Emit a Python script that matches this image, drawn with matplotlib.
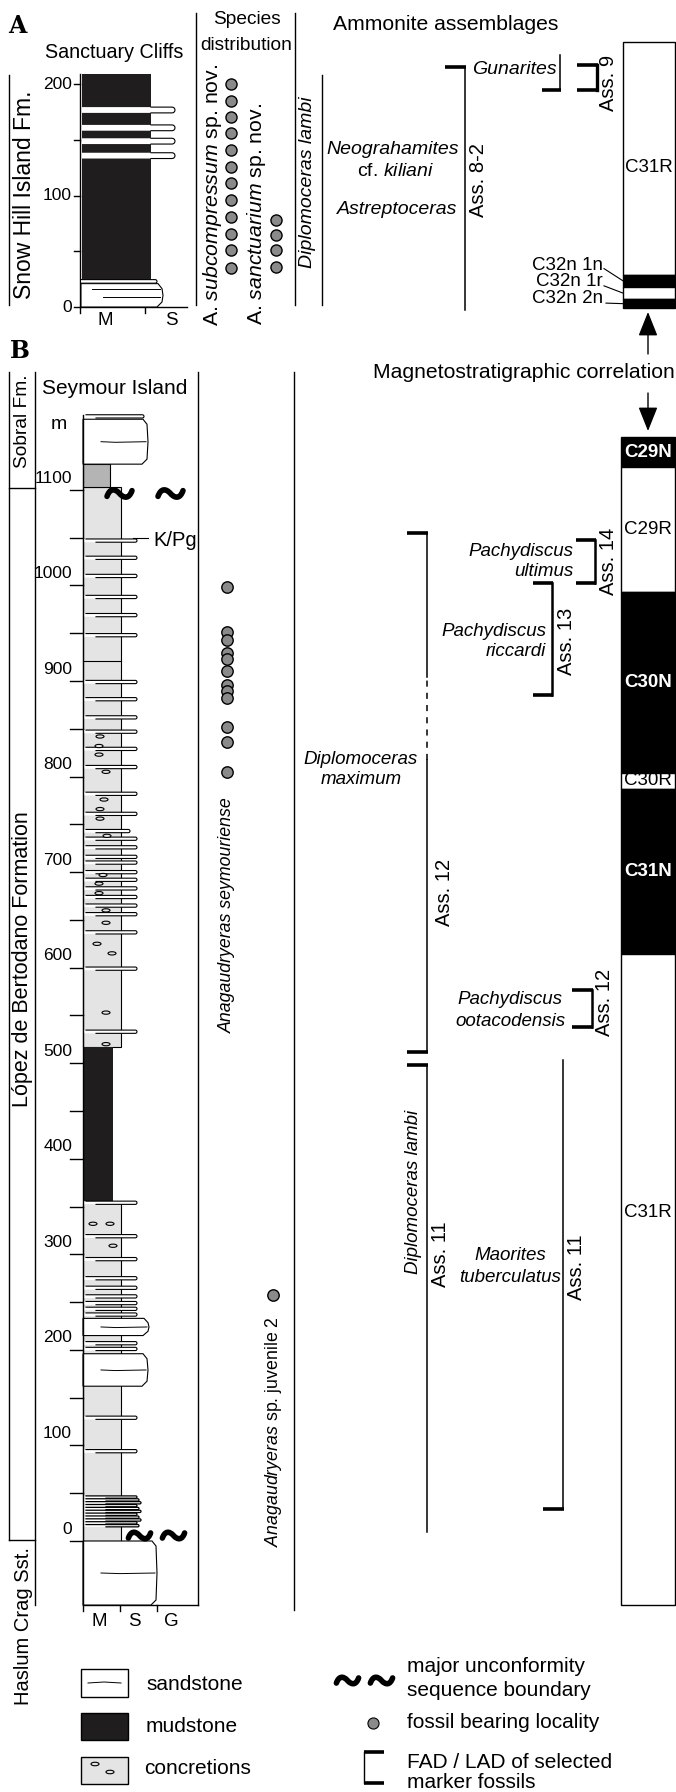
import numpy as np
import matplotlib.pyplot as plt
from matplotlib.patches import Rectangle, Ellipse, Polygon
from matplotlib.path import Path
from matplotlib.markers import MarkerStyle

plt.rcParams['font.family'] = ['Liberation Sans', 'DejaVu Sans']
plt.rcParams['mathtext.fontset'] = 'custom'
plt.rcParams['mathtext.rm'] = 'Liberation Sans'
plt.rcParams['mathtext.it'] = 'Liberation Sans:italic'
plt.rcParams['mathtext.bf'] = 'Liberation Sans:bold'

W, H = 676, 1792
MUD, SILT, GLAUC, DOT = '#1f1d1e', '#e4e4e4', '#b4b4b4', '#8a8a8a'

# ---- panel A : Sanctuary Cliffs, Snow Hill Island Fm. (metres) ----
a_major_ticks = [0, 100, 200]
a_minor_ticks = [50, 150]
a_mud = (24, 209)
a_sand_base = (0, 21)
a_top_lens = 23
a_sand_lenses = [177, 161, 149, 136]
subcompressum_m = [200, 185, 171, 156, 141, 126, 111, 96, 81, 66, 51, 35]
sanctuarium_m = [78, 65, 51, 36]
a_chron_names = ['C31R', 'C32n 1n', 'C32n 1r', 'C32n 2n']
a_chron_top = [238, 29, 18, 7]
a_chron_base = [29, 18, 7, -1]
a_chron_normal = [False, True, False, True]
a_range_names = ['Ass. 8-2', 'Gunarites', 'Ass. 9']
a_range_top = [216, 226, 217]
a_range_base = [-3, 195, 195]

# ---- panel B : Seymour Island (metres) ----
b_major_ticks = [0, 100, 200, 300, 400, 500, 600, 700, 800, 900, 1000, 1100]
b_minor_ticks = [50, 150, 250, 350, 450, 550, 650, 750, 850, 950, 1050]
b_silt = [(0, 354), (517, 1103)]
b_mud = (354, 517)
b_glauconite = (1103, 1127)
b_sand_bodies = [(-67, 0), (162, 196), (215, 233), (1127, 1174)]
b_body_reach = [157, 148, 149, 148]
b_sand_lenses = [1177, 1047, 1029, 1010, 988, 969, 948, 899, 881, 862, 847, 829, 810,
                 782, 761, 743, 735, 726, 716, 710, 700, 692, 683, 674, 665, 656,
                 637, 599, 533, 354, 319, 295, 275, 265, 256, 249, 243, 237, 207,
                 201, 129, 94]
b_cluster_lenses = [46, 43, 40, 37, 34, 31, 28, 25, 22, 19, 16]
b_conc_m = [842, 832, 823, 805, 776, 766, 756, 738, 697, 688, 678, 660, 647,
            625, 615, 553, 520, 332, 332, 309]
b_conc_lane = [100, 99, 99, 106, 104, 100, 100, 107, 103, 99, 99, 106, 106,
               97, 112, 106, 106, 93, 110, 113]
b_unconformities = [1097, 6]
seymouriense_m = [998, 951, 943, 929, 923, 911, 896, 890, 882, 852, 836, 805]
juvenile_m = [257]
b_chron_names = ['C29N', 'C29R', 'C30N', 'C30R', 'C31N', 'C31R']
b_chron_top = [1155, 1124, 993, 804, 787, 614]
b_chron_base = [1124, 993, 804, 787, 614, -67]
b_chron_normal = [True, False, True, False, True, False]
b_range_names = ['D. maximum', 'D. lambi', 'P. ultimus', 'P. riccardi',
                 'P. ootacodensis', 'M. tuberculatus']
b_range_top = [1055, 498, 1048, 1003, 577, 503]
b_range_base = [512, 9, 1003, 885, 538, 33]
d_maximum_gap = (817, 904)

fig = plt.figure(figsize=(W / 100, H / 100), dpi=100)


def overlay(ylim):
    ax = fig.add_axes([0, 0, 1, 1])
    ax.set_xlim(0, W)
    ax.set_ylim(*ylim)
    ax.axis('off')
    ax.patch.set_alpha(0)
    return ax


A0, A_PPM = 307.0, 1.113      # pixel row of 0 m, pixels per metre
B0, B_PPM = 1541.0, 0.9555
axA = overlay(((A0 - H) / A_PPM, A0 / A_PPM))
axB = overlay(((B0 - H) / B_PPM, B0 / B_PPM))
axP = overlay((H, 0))

# the "~" sign used for unconformities, as a marker
TILDE = MarkerStyle(Path([(-13, -3), (-10, 5.5), (-5, 5.5), (0, 0),
                          (5, -5.5), (10, -5.5), (13, 3)],
                         [Path.MOVETO, Path.CURVE4, Path.CURVE4, Path.CURVE4,
                          Path.CURVE4, Path.CURVE4, Path.CURVE4]),
                    fillstyle='none', capstyle='round')


def tilde(ax, xs, ys, size=17):
    ax.plot(xs, ys, ls='none', marker=TILDE, ms=size, mew=4.0, mec='k', zorder=6)


def lens(ax, m, x0, x1, hh, ppm, xt=None, xb=None, lw=0.8, outline=True):
    r = hh * ppm
    t = np.linspace(np.pi / 2, -np.pi / 2, 9)
    ex = x1 - r + r * np.cos(t)
    ey = m + hh * np.sin(t)
    xs = np.r_[x0, ex, x0]
    ys = np.r_[m + hh, ey, m - hh]
    ax.add_patch(Polygon(np.c_[xs, ys], closed=True, fc='white', ec='none', zorder=3))
    if outline:
        ax.plot(np.r_[x0 if xt is None else xt, ex, x0 if xb is None else xb], ys,
                color='k', lw=lw, zorder=4, solid_joinstyle='round')


def body(ax, base, top, xl, xr, ppm, inner=True):
    c = min(5 / ppm, (top - base) * 0.25)
    xs = [xl, xr - 6, xr - 1, xr, xr - 1, xr - 5, xl]
    ys = [base, base, base + c, (base + top) / 2, top - c, top, top]
    ax.add_patch(Polygon(np.c_[xs, ys], closed=True, fc='white', ec='k', lw=0.8, zorder=3))
    if inner:
        mid = (base + top) / 2
        ax.plot([xl + 18, (xl + xr) / 2, xr - 2], [mid, mid - 0.6 / ppm, mid],
                color='k', lw=0.7, zorder=4)


def bracket(ax, x, top, base, top_tick=True, base_tick=True, tl=20, lwv=1.0,
            lwt=2.6, gap=None):
    if gap is None:
        ax.plot([x, x], [base, top], color='k', lw=lwv)
    else:
        ax.plot([x, x], [base, gap[0]], color='k', lw=lwv)
        ax.plot([x, x], [gap[0], gap[1]], color='k', lw=lwv, ls=(0, (4, 4)))
        ax.plot([x, x], [gap[1], top], color='k', lw=lwv)
    if top_tick:
        ax.plot([x - tl, x + 0.5], [top, top], color='k', lw=lwt, solid_capstyle='butt')
    if base_tick:
        ax.plot([x - tl, x + 0.5], [base, base], color='k', lw=lwt, solid_capstyle='butt')


def vtext(ax, x, y, s, size, **kw):
    ax.text(x, y, s, rotation=90, ha='center', va='center', fontsize=size, **kw)


# ================= panel A =================
axP.text(8, 26, 'A', fontsize=17, fontweight='bold', family='DejaVu Serif', va='center')
axP.text(114, 53, 'Sanctuary Cliffs', fontsize=14.2, ha='center', va='center')
axP.text(247, 20, 'Species', fontsize=13.8, ha='center', va='center')
axP.text(246, 45, 'distribution', fontsize=13.8, ha='center', va='center')
axP.text(333, 25, 'Ammonite assemblages', fontsize=15.2, va='center')
axP.plot([9, 9], [75, 305], color='k', lw=1)
vtext(axP, 25, 195, 'Snow Hill Island Fm.', 16.5)
for xv in (196, 295):
    axP.plot([xv, xv], [13, 305], color='k', lw=1)
axP.plot([322, 322], [75, 305], color='k', lw=1)
vtext(axP, 307, 182, 'Diplomoceras lambi', 14, style='italic')

# log
axA.add_patch(Rectangle((82, a_mud[0]), 69, a_mud[1] - a_mud[0], fc=MUD, ec='none', zorder=2))
for m in a_sand_lenses:
    lens(axA, m, 82, 175, 2.6, A_PPM, xt=151, xb=151)
body(axA, a_sand_base[0], a_sand_base[1], 81, 163, A_PPM, inner=False)
axA.plot([92, 160], [16, 16], color='k', lw=0.7, zorder=4)
axA.plot([103, 160], [9, 9], color='k', lw=0.7, zorder=4)
lens(axA, a_top_lens, 81, 157, 1.6, A_PPM)
axA.plot([80, 80], [-5, 209], color='k', lw=1)
axA.plot([80, 187], [0, 0], color='k', lw=1)
axA.plot([145, 145], [0, -5], color='k', lw=1)
for m in a_major_ticks + a_minor_ticks:
    axA.plot([74, 80], [m, m], color='k', lw=1)
for m in a_major_ticks:
    axA.text(72, m, str(m), fontsize=12.5, ha='right', va='center')
axA.text(105, -12, 'M', fontsize=13.5, ha='center', va='center')
axA.text(171, -12, 'S', fontsize=13.5, ha='center', va='center')

# species distribution
axA.plot([231] * len(subcompressum_m), subcompressum_m, 'o', ms=8, mfc=DOT, mec='k', mew=1)
axA.plot([276] * len(sanctuarium_m), sanctuarium_m, 'o', ms=8, mfc=DOT, mec='k', mew=1)
vtext(axP, 213, 195, r'A. $\mathit{subcompressum}$ sp. nov.', 15.3)
vtext(axP, 257, 214, r'A. $\mathit{sanctuarium}$ sp. nov.', 15.3)

# ammonite ranges
bracket(axA, 465, a_range_top[0], a_range_base[0], base_tick=False, lwv=1.1)
bracket(axA, 560, a_range_top[1], a_range_base[1], top_tick=False, lwv=1.1, tl=18)
bracket(axA, 597, a_range_top[2], a_range_base[2], lwv=2.4)
vtext(axP, 478, 180, a_range_names[0], 14.5)
vtext(axP, 608, 83, a_range_names[2], 14.5)
axP.text(557, 70, a_range_names[1], fontsize=14, style='italic', ha='right', va='center')
axP.text(393, 150, 'Neograhamites', fontsize=14, style='italic', ha='center', va='center')
axP.text(396, 171, r'cf. $\mathit{kiliani}$', fontsize=14, ha='center', va='center')
axP.text(397, 210, 'Astreptoceras', fontsize=14, style='italic', ha='center', va='center')

# magnetostratigraphy A
for name, top, base, nrm in zip(a_chron_names, a_chron_top, a_chron_base, a_chron_normal):
    axA.add_patch(Rectangle((623, base), 51.5, top - base, fc='k' if nrm else 'white',
                            ec='k', lw=1, zorder=3))
axA.text(649, 125, a_chron_names[0], fontsize=13.5, ha='center', va='center')
lab_y = [37.5, 22.5, 8]
lead = [(604, 34.5), (604, 19), (606, 3.5)]
for name, ly, (lx, lm), top, base in zip(a_chron_names[1:], lab_y, lead,
                                         a_chron_top[1:], a_chron_base[1:]):
    axA.text(603, ly, name, fontsize=13.5, ha='right', va='center')
    axA.plot([lx, 623], [lm, (top + base) / 2], color='k', lw=0.8)

# correlation arrows
for tip, tail in ((312, 354), (431, 393)):
    axP.annotate('', xy=(648, tip), xytext=(648, tail),
                 arrowprops=dict(arrowstyle='-|>,head_length=0.75,head_width=0.3',
                                 mutation_scale=20, lw=1, color='k', shrinkA=0, shrinkB=0))
axP.text(373, 373, 'Magnetostratigraphic correlation', fontsize=15.2, va='center')

# ================= panel B =================
axP.text(10, 351, 'B', fontsize=17, fontweight='bold', family='DejaVu Serif', va='center')
axP.text(42, 388, 'Seymour Island', fontsize=15, va='center')
axP.plot([9, 9], [372, 1540], color='k', lw=1)
axP.plot([35, 35], [372, 1605], color='k', lw=1)
axP.plot([9, 35], [488, 488], color='k', lw=1)
axP.plot([9, 35], [1540, 1540], color='k', lw=1)
vtext(axP, 23, 421, 'Sobral Fm.', 13.8)
vtext(axP, 23, 959, 'López de Bertodano Formation', 15.5)
vtext(axP, 24, 1626, 'Haslum Crag Sst.', 14.5)
axP.plot([198, 198], [372, 1605], color='k', lw=1)
axP.plot([294, 294], [372, 1610], color='k', lw=1)

# log B
for base, top in b_silt:
    axB.add_patch(Rectangle((83, base), 37.7, top - base, fc=SILT, ec='k', lw=0.8, zorder=2))
axB.add_patch(Rectangle((83, b_mud[0]), 29.7, b_mud[1] - b_mud[0], fc=MUD, ec='none', zorder=2))
axB.add_patch(Rectangle((83, b_glauconite[0]), 27, b_glauconite[1] - b_glauconite[0],
                        fc=GLAUC, ec='k', lw=0.8, zorder=2))
axB.plot([83, 120.7], [921, 921], color='k', lw=0.8, zorder=2)
for (base, top), xr in zip(b_sand_bodies, b_body_reach):
    body(axB, base, top, 83, xr, B_PPM)
for m in b_sand_lenses:
    reach = 130 if m == 743 else (144 if m == 1177 else 137)
    lens(axB, m, 84, reach, 1.7, B_PPM, xt=86, xb=96)
for i, m in enumerate(b_cluster_lenses):
    lens(axB, m, 84, 137 + (i % 3) * 2, 1.2, B_PPM, xt=86, xb=106, lw=0.9)
for x, m in zip(b_conc_lane, b_conc_m):
    axB.add_patch(Ellipse((x, m), 8, 3.4, fc=SILT, ec='k', lw=0.8, zorder=5))
axB.plot([83, 83], [-73, 1178], color='k', lw=1, zorder=5)
axB.plot([83, 198], [-67, -67], color='k', lw=1)
for xv in (120, 157):
    axB.plot([xv, xv], [-67, -73], color='k', lw=1)
for m in b_major_ticks + b_minor_ticks:
    axB.plot([70, 83], [m, m], color='k', lw=1)
for m in b_major_ticks:
    axB.text(72, m + 12.5, str(m), fontsize=12.5, ha='right', va='center')
axB.text(59, 1169, 'm', fontsize=14, ha='center', va='center')
for x, lab in zip((99, 134, 171), ('M', 'S', 'G')):
    axB.text(x, -84, lab, fontsize=13.5, ha='center', va='center')
axB.plot([133, 148], [1050, 1050], color='k', lw=0.8)
axB.text(153, 1047, 'K/Pg', fontsize=14.5, va='center')
tilde(axB, [119, 170], [b_unconformities[0]] * 2, size=18)
tilde(axB, [139, 173], [b_unconformities[1]] * 2, size=16)

# species B
axB.plot([227] * len(seymouriense_m), seymouriense_m, 'o', ms=8.2, mfc=DOT, mec='k', mew=1, zorder=5)
axB.plot([273] * len(juvenile_m), juvenile_m, 'o', ms=8.2, mfc=DOT, mec='k', mew=1, zorder=5)
vtext(axP, 227, 915, 'Anagaudryeras seymouriense', 12.8, style='italic')
vtext(axP, 273, 1432, r'$\mathit{Anagaudryeras}$ sp. juvenile 2', 12.8)

# ammonite ranges B
bracket(axB, 427, b_range_top[0], b_range_base[0], gap=d_maximum_gap, lwv=1.1)
bracket(axB, 427, b_range_top[1], b_range_base[1], base_tick=False, lwv=1.1)
bracket(axB, 595, b_range_top[2], b_range_base[2], tl=19, lwv=1.8)
bracket(axB, 552, b_range_top[3], b_range_base[3], tl=19, lwv=1.8)
bracket(axB, 592, b_range_top[4], b_range_base[4], tl=20, lwv=1.8)
bracket(axB, 563, b_range_top[5], b_range_base[5], top_tick=False, tl=20, lwv=1.1)
it = dict(fontsize=13.5, style='italic', va='center')
axP.text(361, 759, 'Diplomoceras', ha='center', **it)
axP.text(361, 780, 'maximum', ha='center', **it)
vtext(axP, 413, 1192, 'Diplomoceras lambi', 13.5, style='italic')
axP.text(573, 552, 'Pachydiscus', ha='right', **it)
axP.text(573, 572, 'ultimus', ha='right', **it)
axP.text(546, 632, 'Pachydiscus', ha='right', **it)
axP.text(546, 652, 'riccardi', ha='right', **it)
axP.text(510, 1000, 'Pachydiscus', ha='center', **it)
axP.text(510, 1021, 'ootacodensis', ha='center', **it)
axP.text(510, 1256, 'Maorites', ha='center', **it)
axP.text(510, 1277, 'tuberculatus', ha='center', **it)
vtext(axP, 444, 892, 'Ass. 12', 14.5)
vtext(axP, 441, 1254, 'Ass. 11', 14.5)
vtext(axP, 608, 561, 'Ass. 14', 14.5)
vtext(axP, 566, 641, 'Ass. 13', 14.5)
vtext(axP, 604, 1002, 'Ass. 12', 14.5)
vtext(axP, 576, 1267, 'Ass. 11', 14.5)

# magnetostratigraphy B
for name, top, base, nrm in zip(b_chron_names, b_chron_top, b_chron_base, b_chron_normal):
    axB.add_patch(Rectangle((621, base), 53.5, top - base, fc='k' if nrm else 'white',
                            ec='k', lw=1, zorder=3))
    ly = 344 if name == 'C31R' else (top + base) / 2
    axB.text(648, ly, name, fontsize=13.5, ha='center', va='center', zorder=4,
             color='white' if nrm else 'k', fontweight='bold' if nrm else 'normal')

# ================= legend =================
axP.add_patch(Rectangle((81, 1669), 47, 28, fc='white', ec='k', lw=1))
axP.plot([88, 104, 121], [1683, 1682, 1683], color='k', lw=0.7)
axP.add_patch(Rectangle((81, 1713), 47, 27, fc=MUD, ec='k', lw=1))
axP.add_patch(Rectangle((81, 1757), 47, 27, fc=SILT, ec='k', lw=1))
axP.add_patch(Ellipse((95, 1764), 8, 3.5, fc=SILT, ec='k', lw=0.8))
axP.add_patch(Ellipse((110, 1772), 8, 3.5, fc=SILT, ec='k', lw=0.8))
leg = dict(fontsize=15, va='center')
axP.text(146, 1684, 'sandstone', **leg)
axP.text(146, 1726, 'mudstone', **leg)
axP.text(144, 1768, 'concretions', **leg)
tilde(axP, [347, 381], [1680, 1680], size=16)
axP.text(407, 1667, 'major unconformity', **leg)
axP.text(407, 1690, 'sequence boundary', **leg)
axP.plot([373], [1723], 'o', ms=8, mfc=DOT, mec='k', mew=0.8)
axP.text(407, 1722, 'fossil bearing locality', **leg)
axP.plot([364, 364], [1752, 1783], color='k', lw=1)
axP.plot([363.5, 384], [1752, 1752], color='k', lw=2.6, solid_capstyle='butt')
axP.plot([363.5, 384], [1783, 1783], color='k', lw=2.6, solid_capstyle='butt')
axP.text(407, 1762, 'FAD / LAD of selected', **leg)
axP.text(407, 1782, 'marker fossils', **leg)

fig.savefig('out.png', dpi=100)
